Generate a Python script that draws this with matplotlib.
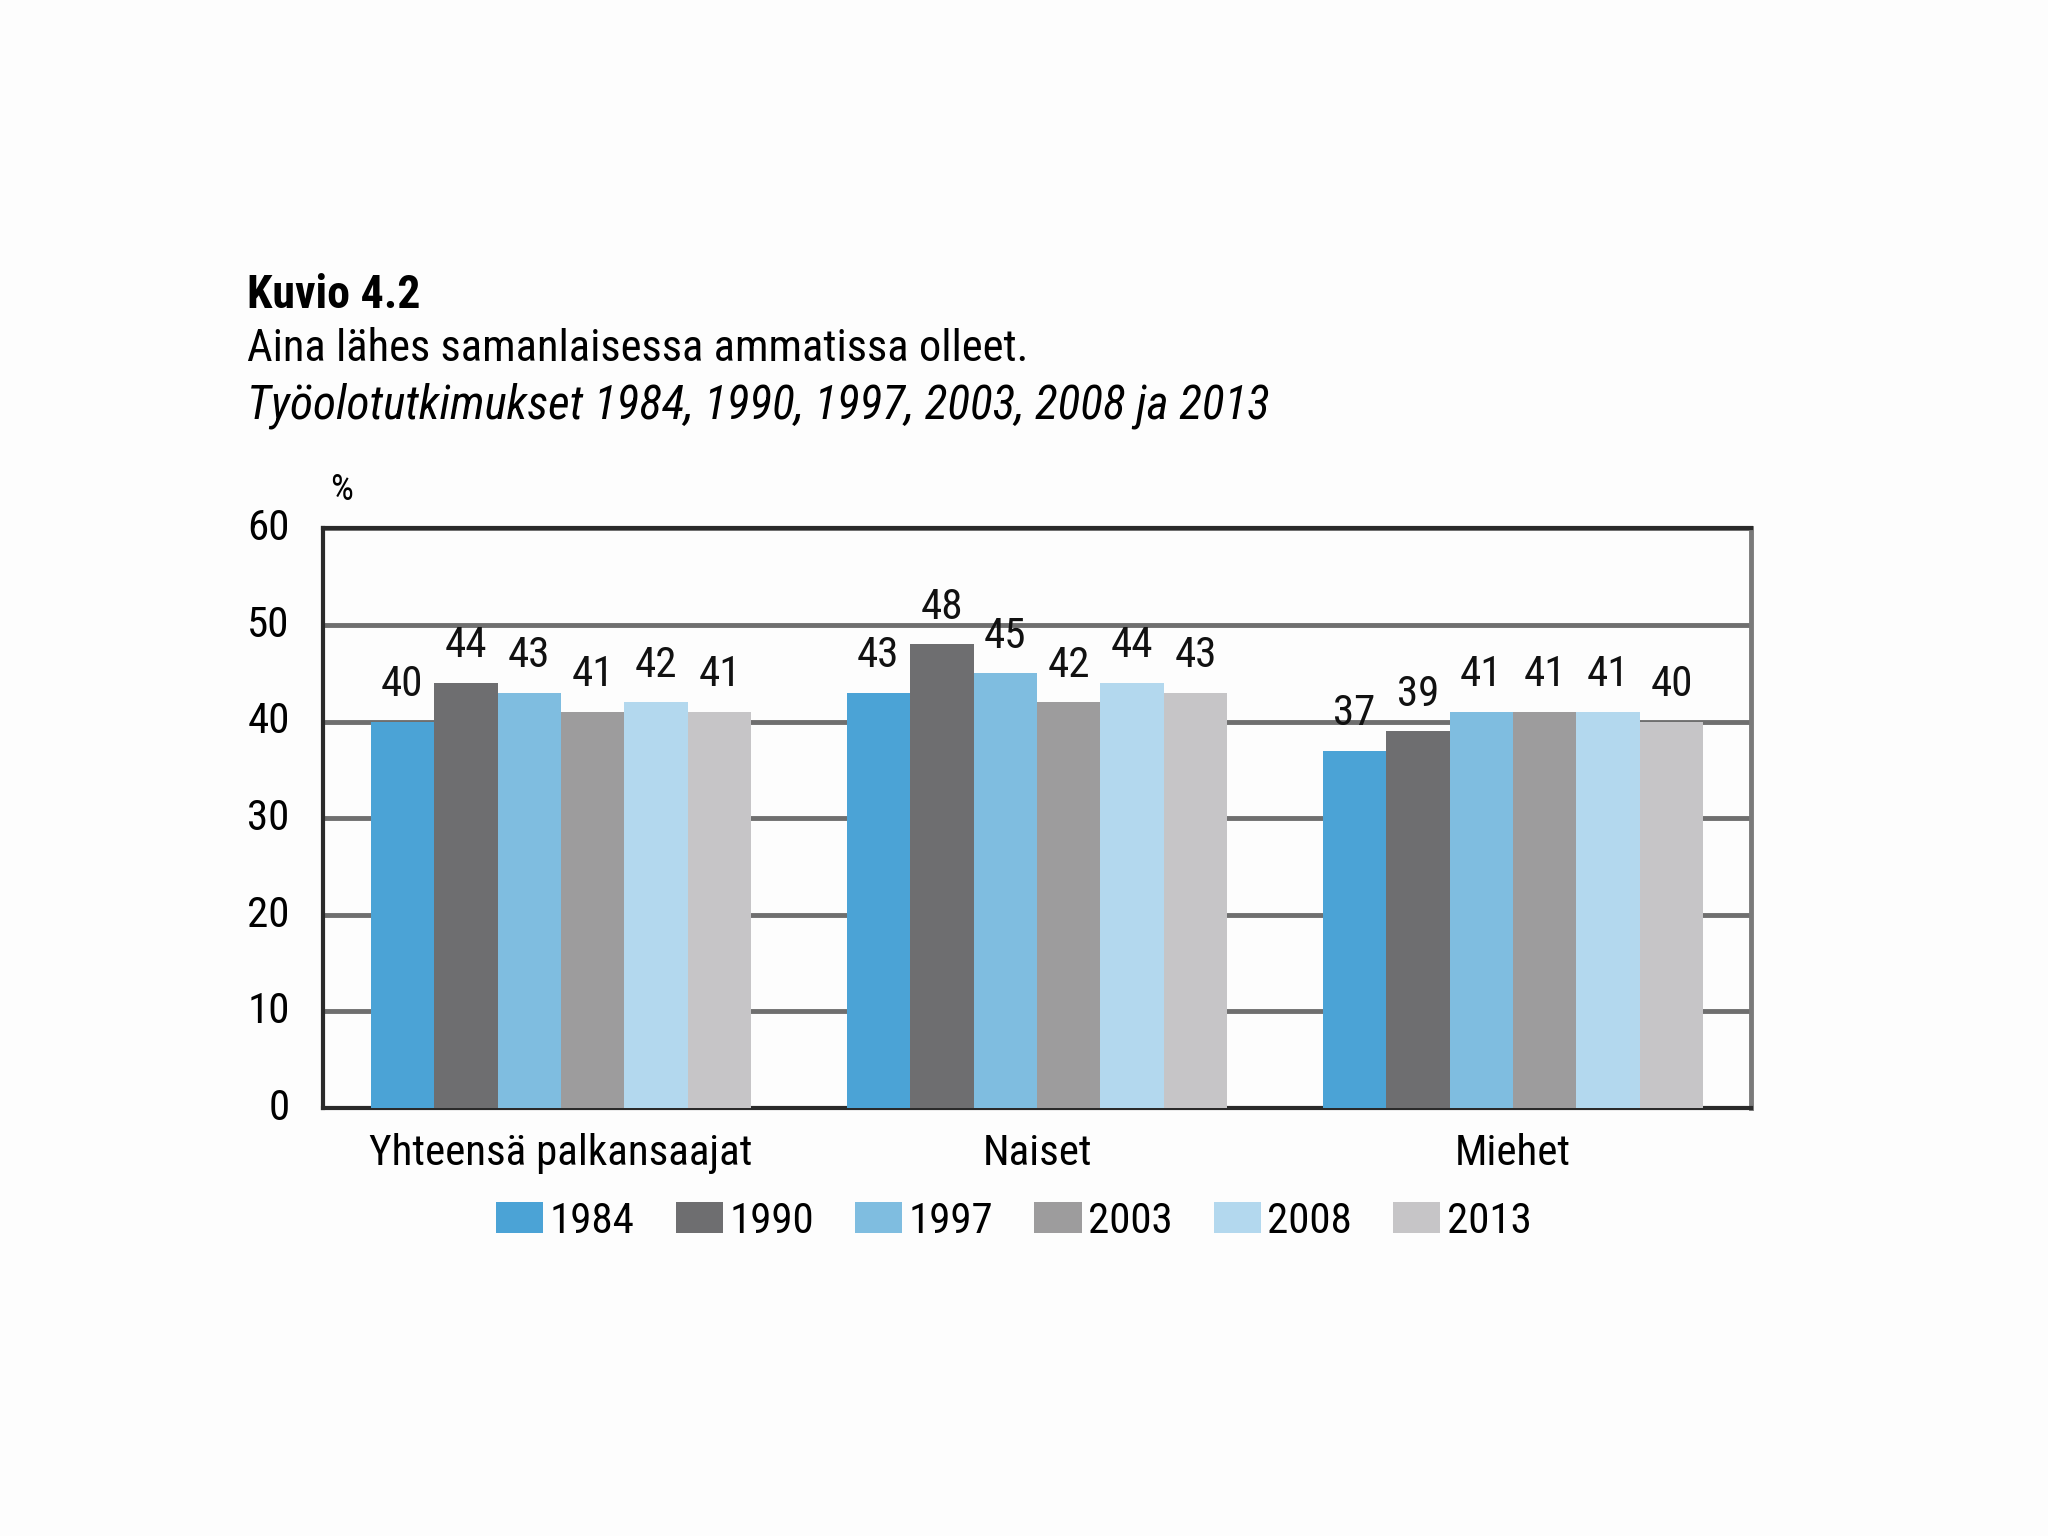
import matplotlib
matplotlib.use("Agg")
import matplotlib.pyplot as plt
import matplotlib.transforms as mtransforms
import numpy as np
from matplotlib import font_manager

# choose a narrow/condensed font if available
ttf = font_manager.fontManager.ttflist
names = {f.name for f in ttf}
fam = 'DejaVu Sans'
for cand in ['Roboto Condensed', 'Liberation Sans Narrow', 'Open Sans Condensed']:
    if cand in names:
        fam = cand
        break
plt.rcParams['font.family'] = [fam, 'DejaVu Sans']

categories = ["Yhteensä palkansaajat", "Naiset", "Miehet"]
years = ["1984", "1990", "1997", "2003", "2008", "2013"]
values = {
    "1984": [40, 43, 37],
    "1990": [44, 48, 39],
    "1997": [43, 45, 41],
    "2003": [41, 42, 41],
    "2008": [42, 44, 41],
    "2013": [41, 43, 40],
}
colors = ["#4BA3D6", "#6E6E70", "#7FBDE0", "#9D9C9D", "#B3D8EE", "#C6C5C7"]
yticks = [0, 10, 20, 30, 40, 50, 60]

fig = plt.figure(figsize=(20.48, 15.36), dpi=100, facecolor="#FDFDFD")
ax = fig.add_axes([0.1577, 0.2786, 0.6973, 0.3774])
ax.set_facecolor("#FDFDFD")

x = np.arange(len(categories))
n = len(years)
w = 0.8 / n
handles = []
for i, (yr, c) in enumerate(zip(years, colors)):
    pos = x - 0.4 + w * (i + 0.5)
    b = ax.bar(pos, values[yr], width=w, color=c, zorder=3, label=yr)
    ax.bar_label(b, labels=[str(v) for v in values[yr]], padding=12, fontsize=31, color="#111111")
    handles.append(b)

ax.set_xlim(-0.5, 2.5)
ax.set_ylim(0, 60)
ax.set_yticks(yticks)
ax.set_yticklabels([str(t) for t in yticks], fontsize=31)
ax.tick_params(axis='y', length=0, pad=24)
offset = mtransforms.ScaledTranslation(0, 3 / 72, fig.dpi_scale_trans)
for lab in ax.get_yticklabels():
    lab.set_transform(lab.get_transform() + offset)
ax.set_xticks(x)
ax.set_xticklabels(categories, fontsize=31)
ax.tick_params(axis='x', length=0, pad=18)
ax.yaxis.grid(True, color="#6F6F6F", linewidth=3.5, zorder=1)
for s in ["left", "bottom", "top"]:
    ax.spines[s].set_color("#2A2A2A")
    ax.spines[s].set_linewidth(3)
ax.spines["right"].set_color("#7A7A7A")
ax.spines["right"].set_linewidth(3.5)

fig.text(0.167, 0.681, "%", fontsize=26, ha="center", va="center")
fig.text(0.1206, 0.808, "Kuvio 4.2", fontsize=33, fontweight="bold", va="center")
fig.text(0.1206, 0.773, "Aina lähes samanlaisessa ammatissa olleet.", fontsize=32, va="center")
fig.text(0.1206, 0.736, "Työolotutkimukset 1984, 1990, 1997, 2003, 2008 ja 2013", fontsize=34,
         style="italic", va="center")

fig.legend(handles=handles, labels=years, loc="center", bbox_to_anchor=(0.495, 0.205), ncol=6,
           frameon=False, fontsize=31, handlelength=1.1, handleheight=0.75, handletextpad=0.15,
           columnspacing=0.95)

fig.savefig("out.png", dpi=100, facecolor=fig.get_facecolor())
